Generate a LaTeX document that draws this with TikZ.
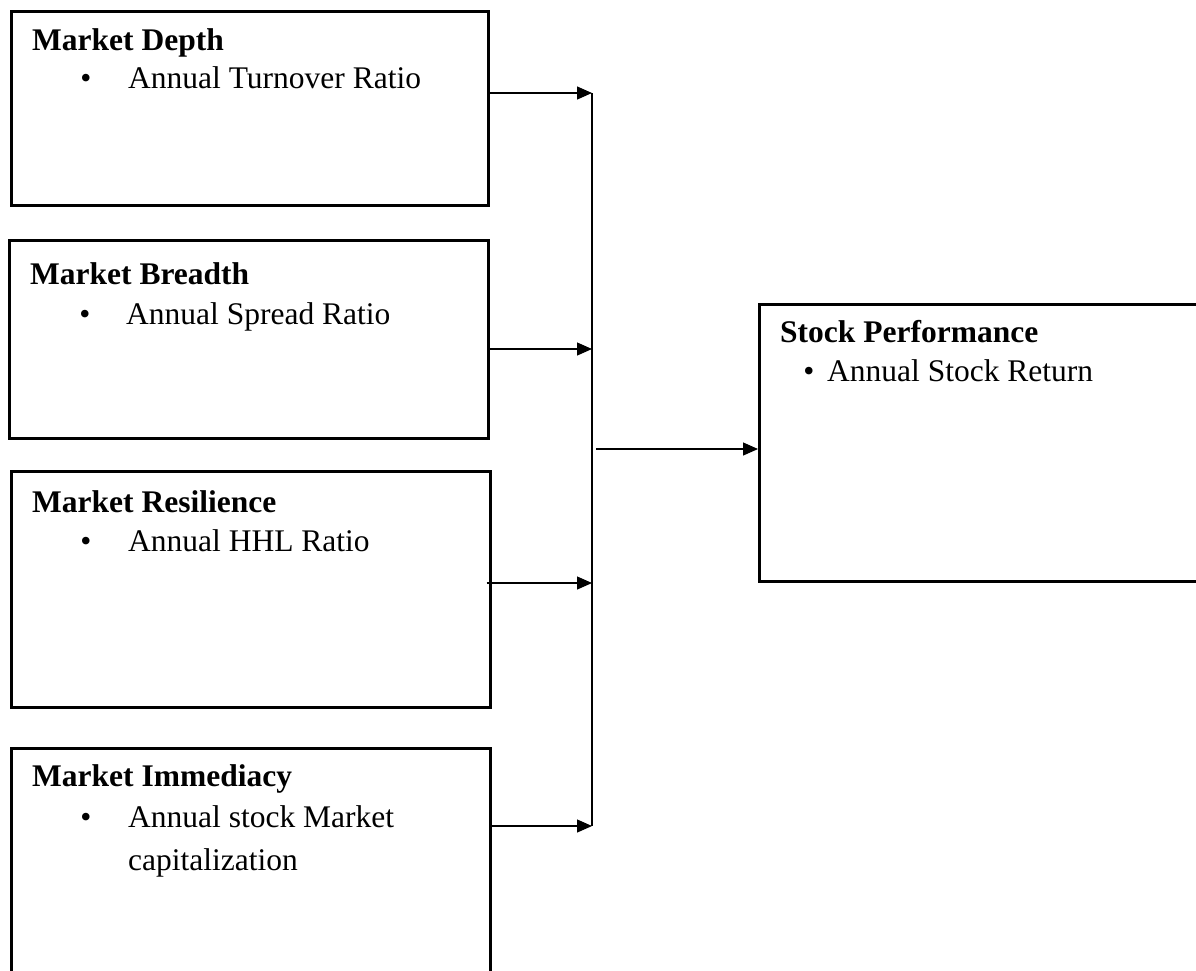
\documentclass[tikz,border=0pt]{standalone}
\usepackage{fontspec}
\setmainfont{Liberation Serif}
\usetikzlibrary{arrows.meta}
\newcommand{\boxfont}{\fontsize{31.5}{38}\selectfont}
\tikzset{
  box/.style={draw, line width=2.6pt, rectangle, anchor=north west, inner sep=0pt},
  head/.style={anchor=base west, inner sep=0pt, font=\boxfont\bfseries},
  item/.style={anchor=base west, inner sep=0pt, font=\boxfont},
  dot/.style={anchor=base, inner sep=0pt, font=\boxfont},
  link/.style={line width=1.3pt, -{Triangle[length=15pt,width=13pt]}},
  bus/.style={line width=1.3pt}
}
\begin{document}
\begin{tikzpicture}[x=1pt, y=-1pt, line join=miter]
\useasboundingbox (0,0) rectangle (1196,970);
\clip (0,0) rectangle (1196,970);
% boxes
\node[box, minimum width=477pt, minimum height=194pt] (depth) at (10,10) {};
\node[box, minimum width=479pt, minimum height=198pt] (breadth) at (8,239) {};
\node[box, minimum width=479pt, minimum height=236pt] (resil) at (10,470) {};
\node[box, minimum width=479pt, minimum height=260pt] (immed) at (10,747) {};
\node[box, minimum width=470pt, minimum height=277pt] (perf) at (758,303) {};
% texts
\node[head] (depth-h) at (32,50) {Market Depth};
\node[dot] (depth-d) at (86,88) {•};
\node[item] (depth-i) at (128,88) {Annual Turnover Ratio};
\node[head] (breadth-h) at (30,284) {Market Breadth};
\node[dot] (breadth-d) at (85,324) {•};
\node[item] (breadth-i) at (126,324) {Annual Spread Ratio};
\node[head] (resil-h) at (32,512) {Market Resilience};
\node[dot] (resil-d) at (86,551) {•};
\node[item] (resil-i) at (128,551) {Annual HHL Ratio};
\node[head] (immed-h) at (32,786) {Market Immediacy};
\node[dot] (immed-d) at (86,827) {•};
\node[item] (immed-i) at (128,827) {Annual stock Market};
\node[item] (immed-j) at (128,870) {capitalization};
\node[head] (perf-h) at (780,342) {Stock Performance};
\node[dot] (perf-d) at (809,381) {•};
\node[item] (perf-i) at (827,381) {Annual Stock Return};
% bus
\coordinate (b1) at (592,93);
\coordinate (b2) at (592,349);
\coordinate (b3) at (592,583);
\coordinate (b4) at (592,826);
\coordinate (bm) at (596,449);
\draw[bus] (b1) -- (b4);
\draw[link] (depth.east |- b1) -- (b1);
\draw[link] (breadth.east |- b2) -- (b2);
\draw[link] ([xshift=-5pt]resil.east |- b3) -- (b3);
\draw[link] (immed.east |- b4) -- (b4);
\draw[link] (bm) -- (perf.west |- bm);
\end{tikzpicture}
\end{document}
